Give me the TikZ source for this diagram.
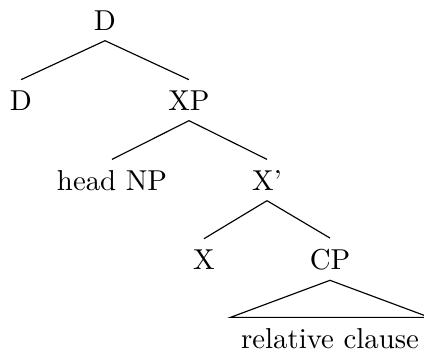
\documentclass[tikz,border=0pt]{standalone}
\usetikzlibrary{positioning}

\begin{document}
\begin{tikzpicture}[x=0.3472pt, y=-0.3472pt, lbl/.style={anchor=base, inner sep=3.5pt}]
		\useasboundingbox (0,0) rectangle (424,350);
		\node[lbl] (top) at (105, 30) {D};
		\node[lbl] (det) at (21, 110) {D};
		\node[lbl] (xp) at (189, 110) {XP};
		\node[lbl] (headnp) at (112, 190) {head NP};
		\node[lbl] (xbar) at (267, 190) {X'};
		\node[lbl] (x) at (204, 269) {X};
		\node[lbl] (cp) at (330, 269) {CP};
		\node[lbl] (relcl) at (330, 348) {relative clause};
		
		\draw (top.south) -- (det.north);
		\draw (top.south) -- (xp.north);
		\draw (xp.south) -- (headnp.north);
		\draw (xp.south) -- (xbar.north);
		\draw (xbar.south) -- (x.north);
		\draw (xbar.south) -- (cp.north);
		\draw (cp.south) -- (relcl.north west) -- (relcl.north east) -- cycle;
\end{tikzpicture}
\end{document}
